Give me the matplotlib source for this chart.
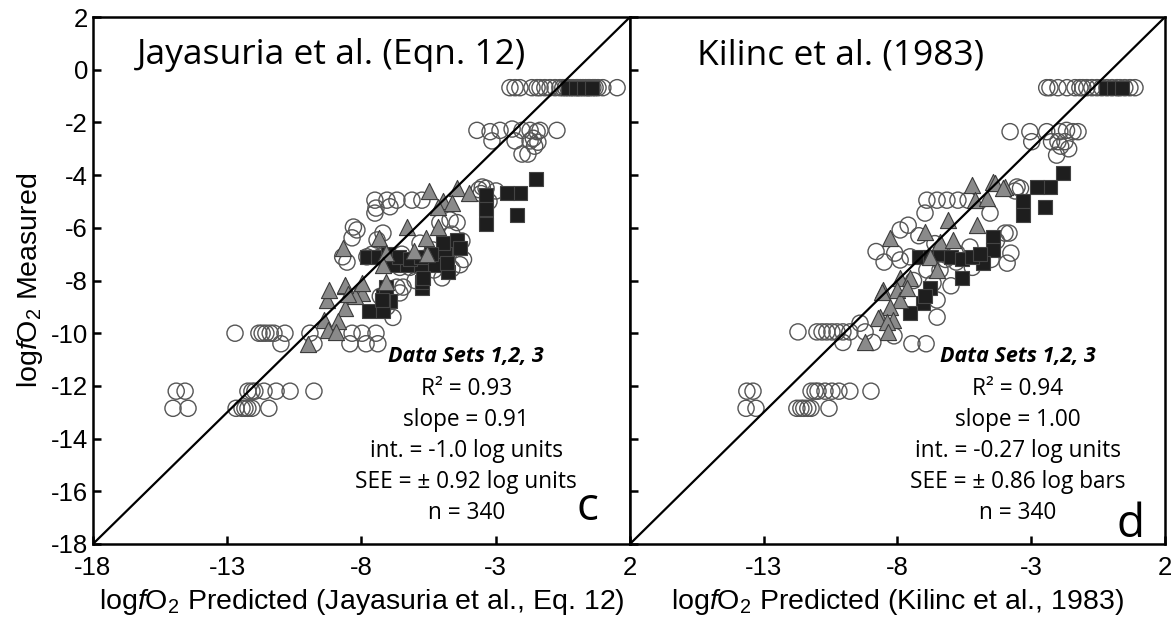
import matplotlib
matplotlib.use('Agg')
import matplotlib.pyplot as plt

# ---- data (log fO2, predicted vs measured) ----
# Panel c: Jayasuria et al. (Eqn. 12)
jay_circ_x = [-2.47, -2.28, -2.10, -1.65, -1.46, -1.35, -1.17, -0.98, -0.79, -0.61, -0.5, -0.4, -0.31, -0.2,
              -0.12, 0.0, 0.06, 0.15, 0.25, 0.35, 0.44, 0.5, 0.62, 0.7, 0.81, 0.99, 1.52,
              -3.70, -3.21, -2.84, -2.39, -2.02, -1.72, -1.46, -1.35, -0.72, -3.14, -2.28, -1.72, -1.43, -1.6,
              -1.55, -2.02, -1.8,
              -3.62, -3.5, -3.36, -2.99, -3.25, -3.55,
              -7.5, -7.05, -6.68, -6.12, -5.75, -7.5, -8.3, -8.7, -7.8, -5.08, -4.7, -6.57, -6.2, -6.68, -6.57,
              -7.05, -6.83, -4.2, -4.44, -7.42, -8.17, -7.2, -5.82, -5.34, -8.35, -8.54, -7.46, -6.94, -4.63,
              -4.26, -4.33, -4.63, -6.45, -7.6, -7.3, -6.9, -6.5, -6.1, -5.7, -5.3, -5.0, -6.0, -7.3,
              -12.71, -11.82, -11.7, -11.56, -11.4, -11.26, -10.85, -9.92, -8.35, -7.98, -7.46,
              -11.0, -9.77, -8.43, -7.83, -7.39,
              -14.9, -14.57, -12.23, -12.08, -11.97, -11.63, -11.18, -10.66, -9.77,
              -15.02, -14.46, -12.67, -12.45, -12.34, -12.23, -12.08, -11.45]
jay_circ_y = [-0.68] * 27 + \
             [-2.3, -2.35, -2.3, -2.25, -2.3, -2.3, -2.35, -2.3, -2.3, -2.7, -2.7, -2.7, -2.75, -2.6,
              -2.9, -3.2, -3.2,
              -4.55, -4.45, -4.5, -4.6, -5.0, -4.7,
              -4.95, -4.95, -4.95, -4.95, -4.95, -5.44, -5.97, -7.1, -7.1, -5.8, -5.7, -7.5, -7.5, -8.25, -8.47,
              -9.0, -9.4, -7.2, -5.8, -6.46, -6.08, -6.2, -6.58, -6.84, -6.38, -7.3, -5.25, -5.2, -6.24,
              -6.5, -7.4, -7.55, -8.25, -7.0, -7.1, -7.2, -7.0, -7.3, -7.2, -7.6, -7.9, -8.0, -8.6,
              -10.0, -10.0, -10.0, -10.0, -10.0, -10.0, -10.0, -10.0, -10.0, -10.0, -10.0,
              -10.4, -10.4, -10.4, -10.4, -10.4,
              -12.2, -12.2, -12.2, -12.2, -12.2, -12.2, -12.2, -12.2, -12.2,
              -12.85, -12.85, -12.85, -12.85, -12.85, -12.85, -12.85, -12.85]
jay_tri_x = [-5.49, -4.44, -4.0, -4.96, -4.63, -5.15, -5.15, -6.3, -5.6, -7.35, -8.69, -7.1, -6.05, -7.2,
             -5.56, -8.6, -7.98, -7.1, -9.3, -8.24, -9.2, -8.6, -7.98, -8.6, -9.4, -8.87, -9.25, -8.95,
             -10.0, -8.5]
jay_tri_y = [-4.6, -4.49, -4.68, -5.0, -5.06, -5.2, -5.97, -5.97, -6.38, -6.38, -6.77, -6.96, -6.88, -7.4,
             -7.0, -8.2, -8.47, -8.06, -8.74, -8.6, -8.36, -8.17, -8.1, -9.04, -9.5, -9.54, -9.88, -9.96,
             -10.4, -8.5]
jay_sq_x = [-0.3, 0.0, 0.3, 0.6,
            -1.5, -2.1, -2.58, -2.2, -3.36, -3.36, -3.36, -4.4, -4.9, -4.78, -5.3, -5.78, -6.3, -6.83,
            -5.74, -7.2, -6.94, -7.1, -7.2, -7.72, -7.2, -5.74, -4.44, -4.96, -4.33, -4.81, -5.7, -7.24,
            -7.8, -7.4, -7.0, -6.6, -6.2, -5.8, -5.4]
jay_sq_y = [-0.68, -0.68, -0.68, -0.68,
            -4.15, -4.68, -4.68, -5.5, -4.75, -5.85, -5.3, -6.77, -7.0, -7.68, -7.4, -7.4, -7.4, -7.4,
            -8.28, -8.6, -8.78, -8.25, -8.8, -9.15, -9.15, -8.06, -6.46, -6.58, -6.77, -7.34, -7.9, -8.74,
            -7.1, -7.1, -7.0, -7.1, -7.2, -7.1, -7.0]

# Panel d: Kilinc et al. (1983)
kil_circ_x = [-2.42, -2.30, -2.0, -1.66, -1.36, -1.18, -1.07, -0.92, -0.73, -0.54, -0.36, -0.17, 0.02, 0.21,
              0.32, 0.5, 0.69, 0.88,
              -3.79, -3.05, -2.42, -1.93, -1.68, -1.44, -1.25, -2.98, -2.24, -2.0, -1.74, -2.05, -1.6, -1.9,
              -3.53, -3.4, -3.6,
              -6.9, -6.52, -6.15, -5.74, -5.36, -6.97, -7.9, -7.9, -7.53, -4.54, -3.98, -3.9, -6.41, -6.67,
              -6.52, -6.52, -5.78, -5.29, -9.4, -7.6, -7.2, -6.6, -6.2, -5.8, -5.2, -4.5, -4.3, -6.9, -7.4,
              -6.0, -8.8, -8.5, -8.1, -3.83, -3.76,
              -11.72, -11.01, -10.82, -10.64, -10.45, -10.26, -10.04, -9.78, -9.21,
              -10.04, -8.92, -8.13, -7.46, -6.93,
              -13.63, -13.4, -11.23, -11.08, -10.97, -10.71, -10.45, -10.19, -9.78, -8.99,
              -13.66, -13.29, -11.76, -11.61, -11.5, -11.35, -11.23, -10.56]
kil_circ_y = [-0.68] * 18 + \
             [-2.35, -2.35, -2.35, -2.35, -2.3, -2.35, -2.35, -2.73, -2.73, -2.73, -2.73, -3.24, -3.0, -2.9,
              -4.45, -4.5, -4.6,
              -4.95, -4.95, -4.95, -4.95, -4.95, -5.44, -6.08, -7.22, -7.1, -5.44, -6.2, -7.34, -7.6, -8.1,
              -8.74, -9.39, -6.96, -6.73, -9.62, -5.9, -6.3, -6.6, -7.2, -7.3, -7.5, -7.2, -6.5, -7.6, -8.0,
              -8.2, -6.9, -7.3, -6.96, -6.2, -6.96,
              -9.95, -9.95, -9.95, -9.95, -9.95, -9.95, -9.95, -9.95, -9.95,
              -10.35, -10.35, -10.1, -10.4, -10.4,
              -12.2, -12.2, -12.2, -12.2, -12.2, -12.2, -12.2, -12.2, -12.2, -12.2,
              -12.85, -12.85, -12.85, -12.85, -12.85, -12.85, -12.85, -12.85]
kil_tri_x = [-4.43, -3.98, -5.21, -4.35, -4.05, -5.1, -4.65, -6.11, -5.03, -6.97, -8.28, -6.41, -5.93, -6.78,
             -6.52, -7.9, -7.53, -8.54, -8.02, -7.9, -8.28, -8.65, -8.17, -7.64, -8.58, -8.73, -8.39, -9.21,
             -8.35]
kil_tri_y = [-4.26, -4.45, -4.38, -4.3, -4.49, -4.95, -4.87, -5.7, -5.9, -6.16, -6.39, -6.54, -6.46, -7.1,
             -7.6, -7.9, -7.9, -8.36, -8.36, -8.74, -9.0, -9.39, -9.5, -8.28, -8.44, -9.42, -9.57, -10.33,
             -9.95]
kil_sq_x = [-0.2, 0.1, 0.4,
            -1.81, -2.3, -2.8, -2.49, -3.3, -3.3, -4.43, -4.43, -4.8, -5.59, -6.78, -7.05, -7.53, -6.97,
            -7.2, -6.8, -6.4, -6.0, -5.6, -5.2, -4.9]
kil_sq_y = [-0.68, -0.68, -0.68,
            -3.92, -4.45, -4.45, -5.2, -5.0, -5.5, -6.35, -6.84, -7.34, -7.9, -8.28, -8.85, -9.23, -8.6,
            -7.1, -7.1, -7.0, -7.1, -7.2, -7.1, -7.0]

ticks_x = [-18, -13, -8, -3, 2]
ticks_y = list(range(-18, 3, 2))

plt.rcParams['font.family'] = ['Liberation Sans', 'DejaVu Sans']
plt.rcParams['axes.unicode_minus'] = False
plt.rcParams['mathtext.fontset'] = 'custom'
plt.rcParams['mathtext.rm'] = 'Liberation Sans'
plt.rcParams['mathtext.it'] = 'Liberation Sans:italic'

fig = plt.figure(figsize=(11.74, 6.28), dpi=100)
ax1 = fig.add_axes([0.0792, 0.1338, 0.4574, 0.839])
ax2 = fig.add_axes([0.5366, 0.1338, 0.4557, 0.839])

panels = [
    (ax1, jay_circ_x, jay_circ_y, jay_tri_x, jay_tri_y, jay_sq_x, jay_sq_y,
     'Jayasuria et al. (Eqn. 12)', 0.082,
     ['R\u00b2 = 0.93', 'slope = 0.91', 'int. = -1.0 log units', 'SEE = \u00b1 0.92 log units', 'n = 340'],
     0.695, 'c', 0.92, 0.046,
     r'log$\it{f}$O$_2$ Predicted (Jayasuria et al., Eq. 12)'),
    (ax2, kil_circ_x, kil_circ_y, kil_tri_x, kil_tri_y, kil_sq_x, kil_sq_y,
     'Kilinc et al. (1983)', 0.125,
     ['R\u00b2 = 0.94', 'slope = 1.00', 'int. = -0.27 log units', 'SEE = \u00b1 0.86 log bars', 'n = 340'],
     0.725, 'd', 0.935, 0.013,
     r'log$\it{f}$O$_2$ Predicted (Kilinc et al., 1983)'),
]

text_font = ['Open Sans', 'DejaVu Sans']

for ax, cx, cy, tx, ty, sx, sy, title, tpos, stats, spos, letter, lx, ly, xlabel in panels:
    # open circles, then squares, then triangles on top
    ax.scatter(cx, cy, s=135, facecolors='none', edgecolors='#555555', linewidths=1.0, zorder=2)
    ax.scatter(sx, sy, s=115, marker='s', facecolors='#1e1e1e', edgecolors='#444444', linewidths=0.8, zorder=3)
    ax.scatter(tx, ty, s=135, marker='^', facecolors='#8a8a8a', edgecolors='#3c3c3c', linewidths=0.8, zorder=4)

    # 1:1 line
    ax.plot([-18, 2], [-18, 2], color='black', linewidth=1.6, zorder=5)

    ax.set_xlim(-18, 2)
    ax.set_ylim(-18, 2)
    ax.set_xticks(ticks_x)
    ax.set_yticks(ticks_y)
    ax.tick_params(direction='in', length=6, width=1.8, labelsize=18.5, top=False, right=False)
    ax.tick_params(axis='x', pad=9)
    for sp in ax.spines.values():
        sp.set_linewidth(1.8)

    ax.text(tpos, 0.928, title, transform=ax.transAxes, fontsize=25.5, family=text_font,
            ha='left', va='center')
    ax.text(spos, 0.355, 'Data Sets 1,2, 3', transform=ax.transAxes, fontsize=15.5, family=text_font,
            fontweight='bold', style='italic', ha='center', va='center')
    for i, line in enumerate(stats):
        ax.text(spos, 0.294 - i * 0.059, line, transform=ax.transAxes, fontsize=16.3, family=text_font,
                ha='center', va='center')
    ax.text(lx, ly, letter, transform=ax.transAxes, fontsize=33, family=text_font,
            ha='center', va='baseline')

    ax.set_xlabel(xlabel, fontsize=20.5, labelpad=5)

ax1.set_ylabel(r'log$\it{f}$O$_2$ Measured', fontsize=20.5, labelpad=4)
ax2.set_yticklabels([])
ax2.set_xticklabels([''] + [str(t) for t in ticks_x[1:]])

fig.savefig('out.png', dpi=100)
